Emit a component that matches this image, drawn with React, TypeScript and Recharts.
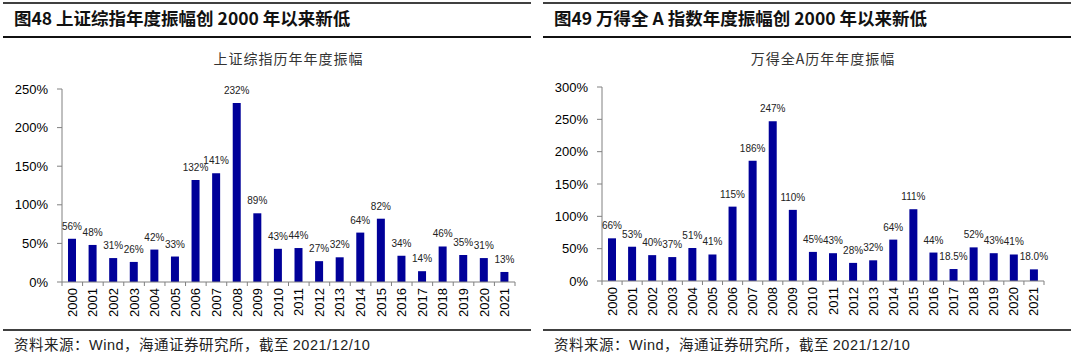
import { BarChart, Bar, XAxis, YAxis, LabelList } from 'recharts';

const years = ['2000', '2001', '2002', '2003', '2004', '2005', '2006', '2007', '2008', '2009', '2010',
  '2011', '2012', '2013', '2014', '2015', '2016', '2017', '2018', '2019', '2020', '2021'];

// 上证综指历年年度振幅 (%)
const shValues = [56, 48, 31, 26, 42, 33, 132, 141, 232, 89, 43, 44, 27, 32, 64, 82, 34, 14, 46, 35, 31, 13];
const shLabels = ['56%', '48%', '31%', '26%', '42%', '33%', '132%', '141%', '232%', '89%', '43%', '44%',
  '27%', '32%', '64%', '82%', '34%', '14%', '46%', '35%', '31%', '13%'];
const shTicks = [0, 50, 100, 150, 200, 250];

// 万得全A历年年度振幅 (%)
const wdValues = [66, 53, 40, 37, 51, 41, 115, 186, 247, 110, 45, 43, 28, 32, 64, 111, 44, 18.5, 52, 43, 41, 18.0];
const wdLabels = ['66%', '53%', '40%', '37%', '51%', '41%', '115%', '186%', '247%', '110%', '45%', '43%',
  '28%', '32%', '64%', '111%', '44%', '18.5%', '52%', '43%', '41%', '18.0%'];
const wdTicks = [0, 50, 100, 150, 200, 250, 300];

const BAR = '#000099';
const AXIS = '#808080';
const LATIN = '"Liberation Sans", Arial, sans-serif';
const CJK = '"Noto Sans CJK SC", "Liberation Sans", sans-serif';

interface PanelProps {
  left: number;
  title: string;
  subtitle: string;
  values: number[];
  labels: string[];
  ticks: number[];
  plotLeft: number;
  plotRight: number;
  plotTop: number;
  plotBottom: number;
}

const W = 540;
const H = 356;

function Panel({ left, title, subtitle, values, labels, ticks, plotLeft, plotRight, plotTop, plotBottom }: PanelProps) {
  const data = years.map((y, i) => ({ year: y, value: values[i], label: labels[i] }));
  const step = (plotRight - plotLeft) / data.length;

  const XTick = (props: any) => {
    const { x, y, payload, index } = props;
    const axisY = y - 6;
    return (
      <g>
        <line x1={x - step / 2} x2={x - step / 2} y1={axisY} y2={axisY + 4} stroke={AXIS} />
        {index === data.length - 1 && (
          <line x1={x + step / 2} x2={x + step / 2} y1={axisY} y2={axisY + 4} stroke={AXIS} />
        )}
        <text
          x={x}
          y={y}
          transform={`rotate(-90, ${x}, ${y})`}
          textAnchor="end"
          dominantBaseline="central"
          fontSize={13}
          fontFamily={LATIN}
          fill="#000"
        >
          {payload.value}
        </text>
      </g>
    );
  };

  return (
    <div style={{ position: 'absolute', left, top: 0, width: W, height: H }}>
      <div style={{ position: 'absolute', left: 3, top: 2, width: 528, height: 2, background: '#404040' }} />
      <div
        style={{
          position: 'absolute', left: 14, top: 6, fontFamily: CJK, fontWeight: 700,
          fontSize: 17.5, lineHeight: '24px', color: '#111', whiteSpace: 'nowrap',
        }}
      >
        {title}
      </div>
      <div style={{ position: 'absolute', left: 3, top: 36, width: 528, height: 2, background: '#111' }} />
      <div
        style={{
          position: 'absolute', left: plotLeft, width: plotRight - plotLeft, top: 48, textAlign: 'center',
          fontFamily: CJK, fontSize: 14, lineHeight: '20px', color: '#333', letterSpacing: 1,
        }}
      >
        {subtitle}
      </div>
      <div style={{ position: 'absolute', left: 3, top: 329, width: 528, height: 2, background: '#404040' }} />
      <div
        style={{
          position: 'absolute', left: 14, top: 334, fontFamily: CJK, fontSize: 14.5,
          lineHeight: '20px', color: '#222', whiteSpace: 'nowrap', letterSpacing: 0.5,
        }}
      >
        资料来源：<span style={{ fontFamily: LATIN }}>Wind</span>，海通证券研究所，截至 <span style={{ fontFamily: LATIN }}>2021/12/10</span>
      </div>
      <div style={{ position: 'absolute', left: 0, top: 0 }}>
        <BarChart
          width={W}
          height={H}
          data={data}
          barCategoryGap={0}
          margin={{ left: plotLeft - 50, right: W - plotRight, top: plotTop, bottom: H - plotBottom - 40 }}
        >
          <XAxis
            dataKey="year"
            interval={0}
            height={40}
            stroke={AXIS}
            tickLine={false}
            tickSize={4}
            tickMargin={2}
            tick={XTick}
          />
          <YAxis
            width={50}
            domain={[ticks[0], ticks[ticks.length - 1]]}
            ticks={ticks}
            interval={0}
            stroke={AXIS}
            tickSize={5}
            tickMargin={9}
            tickFormatter={(v: number) => `${v}%`}
            tick={{ fontSize: 13, fontFamily: LATIN, fill: '#000' }}
          />
          <Bar dataKey="value" fill={BAR} barSize={8} isAnimationActive={false}>
            <LabelList
              dataKey="label"
              position="top"
              offset={9}
              style={{ fontSize: 10, fontFamily: LATIN, fill: '#222' }}
            />
          </Bar>
        </BarChart>
      </div>
    </div>
  );
}

export default function App() {
  return (
    <div style={{ position: 'absolute', left: 0, top: 0, width: 1080, height: 356, background: '#fff', overflow: 'hidden' }}>
      <Panel
        left={0}
        title="图48 上证综指年度振幅创 2000 年以来新低"
        subtitle="上证综指历年年度振幅"
        values={shValues}
        labels={shLabels}
        ticks={shTicks}
        plotLeft={62}
        plotRight={515}
        plotTop={89}
        plotBottom={282}
      />
      <Panel
        left={540}
        title="图49 万得全 A 指数年度振幅创 2000 年以来新低"
        subtitle="万得全A历年年度振幅"
        values={wdValues}
        labels={wdLabels}
        ticks={wdTicks}
        plotLeft={62}
        plotRight={504}
        plotTop={87}
        plotBottom={281}
      />
    </div>
  );
}
